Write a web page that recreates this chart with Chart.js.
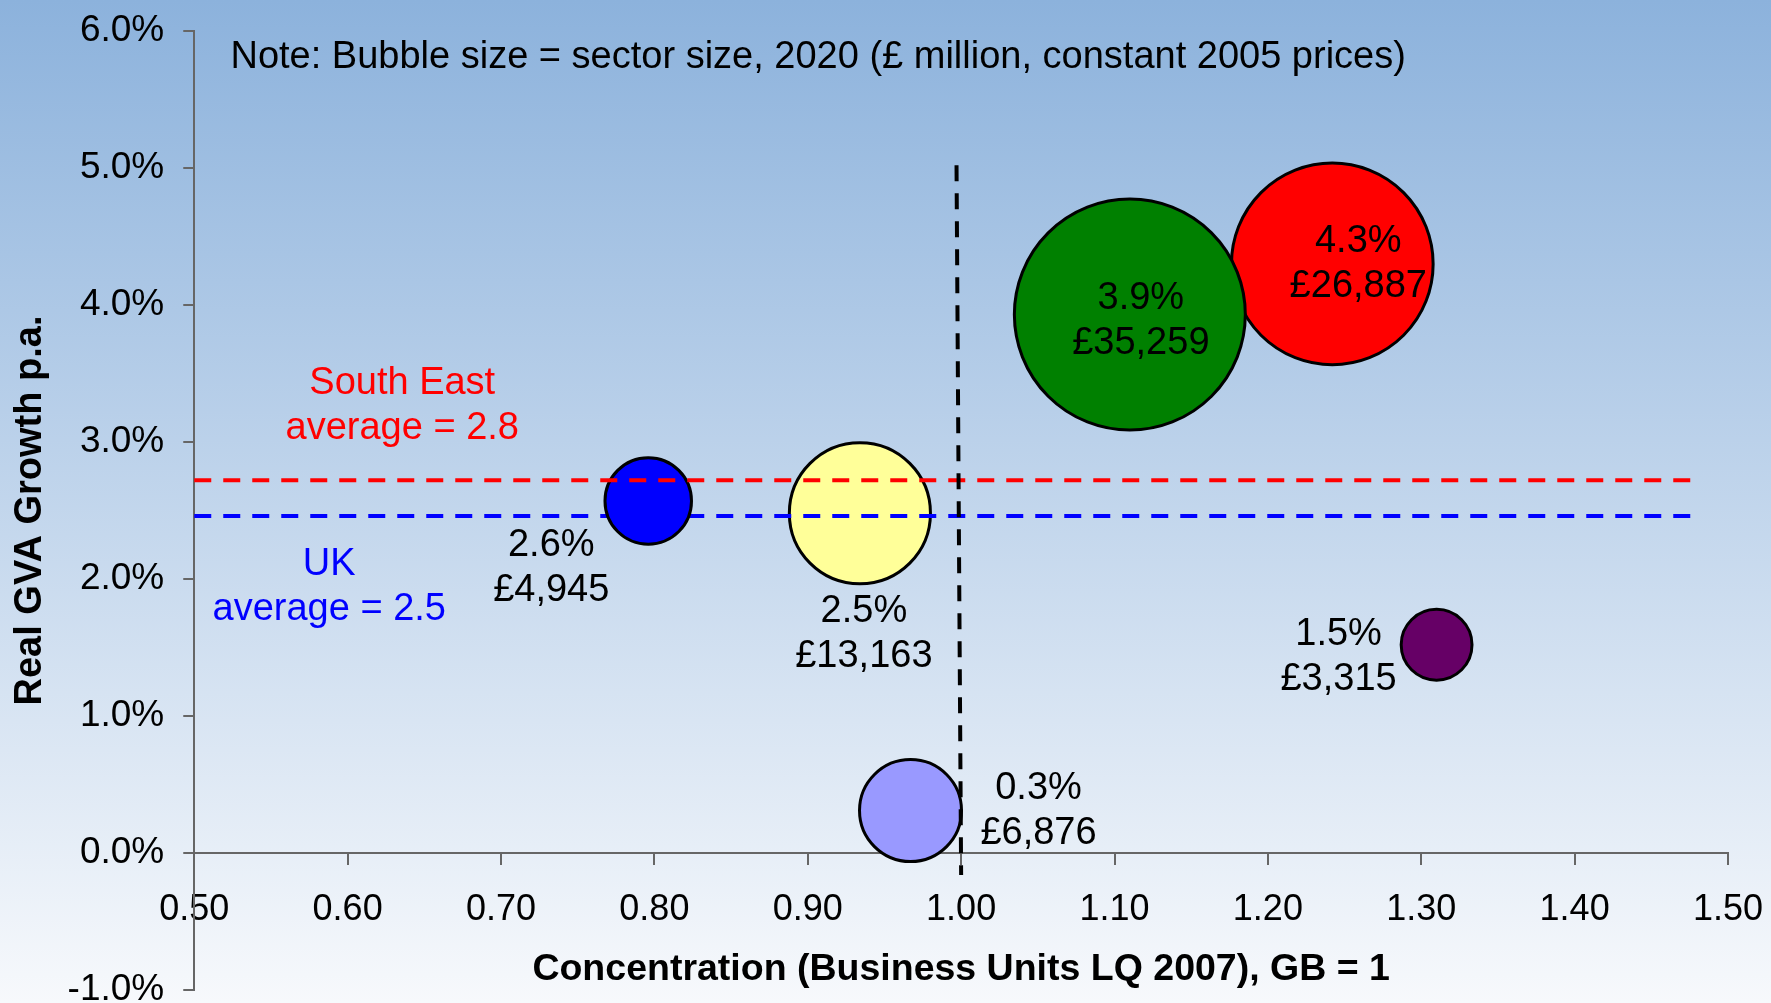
<!DOCTYPE html>
<html>
<head>
<meta charset="utf-8">
<script src="https://cdn.jsdelivr.net/npm/chart.js@4"></script>
<style>
  body { margin: 0; }
  #wrap { width: 1771px; height: 1003px; }
</style>
</head>
<body>
<div id="wrap"><canvas id="myChart" width="1771" height="1003"></canvas></div>
<script>
// sectors: concentration (business units LQ 2007), real GVA growth p.a. (%), size 2020 (£m)
const concentration = [0.796, 0.934, 0.967, 1.242, 1.110, 1.310];
const growth = [2.57, 2.48, 0.31, 4.30, 3.93, 1.52];
const sectorSize = [4945, 13163, 6876, 26887, 35259, 3315];
const growthLabels = ['2.6%', '2.5%', '0.3%', '4.3%', '3.9%', '1.5%'];
const sizeLabels = ['£4,945', '£13,163', '£6,876', '£26,887', '£35,259', '£3,315'];
const bubbleColours = ['#0000ff', '#ffff99', '#9999ff', '#ff0000', '#008000', '#660066'];

// reference lines
const seAverage = 2.72;
const ukAverage = 2.46;
const averageLineX = [0.5, 1.476];
const gbLineX = [0.997, 1.0];
const gbLineY = [5.02, -0.16];

// label offsets from bubble centre, px
const labelOffsets = [[-97, 67], [4, 121], [128, 0], [26, 0], [11, 6], [-98, 12]];

const FONT = "'Liberation Sans', Arial, sans-serif";
const RADIUS_K = 0.615;

Chart.defaults.font.family = FONT;
Chart.defaults.color = '#000';

function bubblePoints(idx) {
    return idx.map(i => ({ x: concentration[i], y: growth[i], r: RADIUS_K * Math.sqrt(sectorSize[i]) }));
}
const mainIdx = [1, 2, 3, 4, 5];
const blueIdx = [0];

const background = {
    id: 'background',
    beforeDraw(chart) {
        const { ctx, width, height } = chart;
        const g = ctx.createLinearGradient(0, 0, 0, height);
        g.addColorStop(0, '#8cb2dc');
        g.addColorStop(1, '#f7f9fc');
        ctx.save();
        ctx.fillStyle = g;
        ctx.fillRect(0, 0, width, height);
        ctx.restore();
    }
};

const textLabels = {
    id: 'textLabels',
    afterDatasetsDraw(chart) {
        const { ctx, scales: { x, y } } = chart;
        ctx.save();
        ctx.font = '38px ' + FONT;
        ctx.textAlign = 'center';
        ctx.textBaseline = 'middle';
        ctx.fillStyle = '#000';
        concentration.forEach((c, i) => {
            const px = x.getPixelForValue(c) + labelOffsets[i][0];
            const py = y.getPixelForValue(growth[i]) + labelOffsets[i][1];
            ctx.fillText(growthLabels[i], px, py - 22.5);
            ctx.fillText(sizeLabels[i], px, py + 22.5);
        });

        // average annotations
        let px = x.getPixelForValue(0.6356), py = y.getPixelForValue(3.26);
        ctx.fillStyle = '#ff0000';
        ctx.fillText('South East', px, py - 22.5);
        ctx.fillText('average = 2.8', px, py + 22.5);
        px = x.getPixelForValue(0.588); py = y.getPixelForValue(1.94);
        ctx.fillStyle = '#0000ff';
        ctx.fillText('UK', px, py - 22.5);
        ctx.fillText('average = 2.5', px, py + 22.5);

        // note
        ctx.fillStyle = '#000';
        ctx.textAlign = 'left';
        ctx.fillText('Note: Bubble size = sector size, 2020 (£ million, constant 2005 prices)',
            x.getPixelForValue(0.5236), y.getPixelForValue(5.81));
        ctx.restore();
    }
};

const ctx = document.getElementById('myChart').getContext('2d');
const chart = new Chart(ctx, {
    type: 'bubble',
    data: {
        datasets: [{
            // most sectors, drawn first
            data: bubblePoints(mainIdx),
            backgroundColor: mainIdx.map(i => bubbleColours[i]),
            borderColor: '#000',
            borderWidth: 3,
            order: 5
        }, {
            type: 'line',
            data: averageLineX.map(v => ({ x: v, y: ukAverage })),
            borderColor: '#0000ff',
            borderWidth: 4,
            borderDash: [17, 12],
            pointRadius: 0,
            fill: false,
            order: 4
        }, {
            data: bubblePoints(blueIdx),
            backgroundColor: blueIdx.map(i => bubbleColours[i]),
            borderColor: '#000',
            borderWidth: 3,
            order: 3
        }, {
            type: 'line',
            data: averageLineX.map(v => ({ x: v, y: seAverage })),
            borderColor: '#ff0000',
            borderWidth: 4,
            borderDash: [17, 12],
            pointRadius: 0,
            fill: false,
            order: 2
        }, {
            type: 'line',
            data: gbLineX.map((v, i) => ({ x: v, y: gbLineY[i] })),
            borderColor: '#000',
            borderWidth: 4,
            borderDash: [16, 12],
            pointRadius: 0,
            fill: false,
            order: 1
        }]
    },
    options: {
        responsive: false,
        animation: false,
        clip: false,
        layout: { autoPadding: false, padding: { top: 31, right: 43, left: 0, bottom: 13 } },
        plugins: {
            legend: { display: false },
            tooltip: { enabled: false }
        },
        scales: {
            x: {
                type: 'linear',
                position: { y: 0 },
                min: 0.5,
                max: 1.5,
                grid: { display: true, drawOnChartArea: false, color: '#666', tickLength: 11, lineWidth: 2 },
                border: { display: true, color: '#666', width: 2 },
                ticks: {
                    stepSize: 0.1,
                    padding: 24,
                    font: { size: 36 },
                    callback: v => v.toFixed(2)
                },
                title: {
                    display: true,
                    text: 'Concentration (Business Units LQ 2007), GB = 1',
                    font: { size: 37.5, weight: 'bold' },
                    padding: { top: -8, bottom: 0 }
                },
                afterFit: s => { s.paddingLeft = 0; s.paddingRight = 0; }
            },
            y: {
                min: -1,
                max: 6,
                grid: { display: true, drawOnChartArea: false, color: '#666', tickLength: 11, lineWidth: 2 },
                border: { display: true, color: '#666', width: 2 },
                ticks: {
                    stepSize: 1,
                    padding: 19,
                    font: { size: 37 },
                    callback: v => v.toFixed(1) + '%'
                },
                title: {
                    display: true,
                    text: 'Real GVA Growth p.a.',
                    font: { size: 38, weight: 'bold' },
                    padding: { top: 8, bottom: -5 }
                },
                afterFit: s => { s.paddingTop = 0; s.paddingBottom = 0; }
            }
        }
    },
    plugins: [background, textLabels]
});
</script>
</body>
</html>
